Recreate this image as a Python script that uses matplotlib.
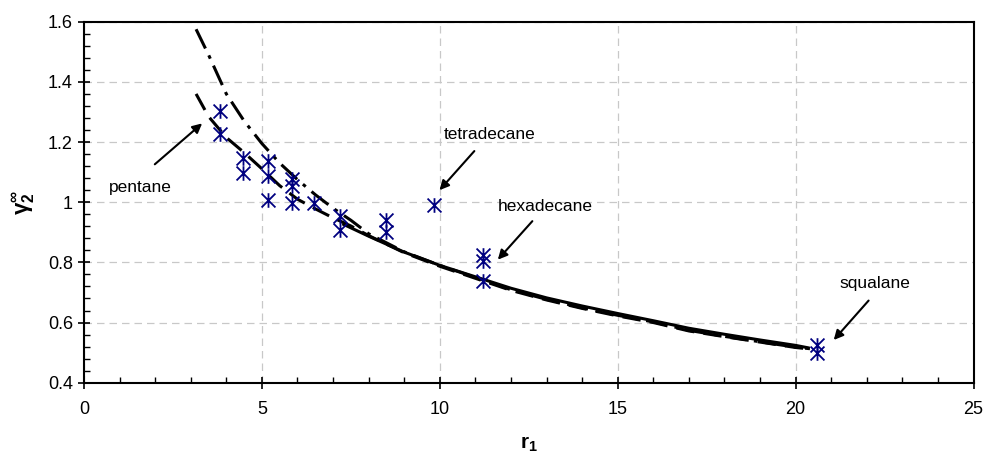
import matplotlib
matplotlib.use("Agg")
import matplotlib.pyplot as plt
from matplotlib.path import Path
from matplotlib.ticker import MultipleLocator

plt.rcParams['font.family'] = ['Liberation Sans', 'DejaVu Sans']
plt.rcParams['mathtext.fontset'] = 'custom'
plt.rcParams['mathtext.rm'] = 'Liberation Sans'
plt.rcParams['mathtext.it'] = 'Liberation Sans'
plt.rcParams['mathtext.bf'] = 'Liberation Sans:bold'

# experimental infinite-dilution activity coefficients
r1_exp = [3.81, 3.81, 4.46, 4.46, 5.16, 5.16, 5.16, 5.84, 5.84, 5.84, 6.47,
          7.19, 7.19, 8.50, 8.50, 9.85, 11.2, 11.2, 11.2, 20.59, 20.59]
gamma_exp = [1.303, 1.226, 1.148, 1.096, 1.137, 1.087, 1.006, 1.076, 1.053,
             0.998, 0.998, 0.953, 0.906, 0.942, 0.900, 0.990, 0.825, 0.803,
             0.737, 0.526, 0.500]

# model curves
r1_a = [3.15, 3.5, 4.0, 4.5, 5.0, 5.5, 6.0, 6.5, 7.0, 7.5, 8.0, 9, 10, 11,
        12, 13, 14, 15, 16, 17, 18, 19, 20, 20.4]
gamma_a = [1.575, 1.49, 1.36, 1.27, 1.195, 1.13, 1.075, 1.025, 0.98, 0.94,
           0.895, 0.835, 0.790, 0.750, 0.709, 0.677, 0.649, 0.624, 0.602,
           0.574, 0.554, 0.536, 0.518, 0.513]

r1_b = [3.15, 3.5, 4.0, 4.5, 5.0, 5.5, 6.0, 6.5, 7.0, 7.5, 8.0, 9, 10, 11,
        12, 13, 14, 15, 16, 17, 18, 19, 20, 20.4]
gamma_b = [1.36, 1.285, 1.215, 1.165, 1.111, 1.055, 1.010, 0.978, 0.948,
           0.921, 0.889, 0.832, 0.787, 0.747, 0.707, 0.675, 0.647, 0.622,
           0.600, 0.572, 0.553, 0.535, 0.517, 0.512]

r1_c = [7.3, 8.0, 9, 10, 11, 12, 13, 14, 15, 16, 17, 18, 19, 20, 20.35]
gamma_c = [0.926, 0.887, 0.834, 0.790, 0.752, 0.714, 0.682, 0.655, 0.630,
           0.606, 0.581, 0.561, 0.542, 0.524, 0.516]

# labelled solutes: (text, text_x, text_y, arrow_tail, arrow_tip)
labels = [
    ("pentane", 1.57, 1.05, (1.99, 1.126), (3.32, 1.262)),
    ("tetradecane", 11.4, 1.226, (10.97, 1.17), (9.99, 1.04)),
    ("hexadecane", 12.95, 0.985, (12.6, 0.937), (11.63, 0.809)),
    ("squalane", 22.23, 0.731, (22.05, 0.673), (21.07, 0.542)),
]

# asterisk: X with a vertical bar
star = Path([(-1, -1), (1, 1), (-1, 1), (1, -1), (0, -1.05), (0, 1.05)],
            [Path.MOVETO, Path.LINETO, Path.MOVETO, Path.LINETO,
             Path.MOVETO, Path.LINETO])

fig = plt.figure(figsize=(9.87, 4.58), dpi=100)
ax = fig.add_axes([0.0851, 0.1644, 0.9013, 0.7882])

ax.plot(r1_a, gamma_a, color='black', lw=2.2,
        linestyle=(0, (7, 2.5, 1.2, 2.5)), zorder=3)
ax.plot(r1_b, gamma_b, color='black', lw=2.2,
        linestyle=(0, (6, 3)), zorder=3)
ax.plot(r1_c, gamma_c, color='black', lw=2.2, zorder=3)
ax.plot(r1_exp, gamma_exp, linestyle='none', marker=star, markersize=10.5,
        markeredgewidth=1.3, markeredgecolor='#000080',
        markerfacecolor='none', zorder=4)

for text, tx, ty, tail, tip in labels:
    ax.text(tx, ty, text, fontsize=12.5, ha='center', va='center')
    ax.annotate('', xy=tip, xytext=tail,
                arrowprops=dict(arrowstyle='-|>', color='black', lw=1.5,
                                mutation_scale=14, shrinkA=0, shrinkB=0))

ax.set_xlim(0, 25)
ax.set_ylim(0.4, 1.6)
ax.xaxis.set_major_locator(MultipleLocator(5))
ax.xaxis.set_minor_locator(MultipleLocator(1))
ax.yaxis.set_major_locator(MultipleLocator(0.2))
ax.yaxis.set_minor_locator(MultipleLocator(0.04))
ax.set_yticks([0.4, 0.6, 0.8, 1.0, 1.2, 1.4, 1.6])
ax.set_yticklabels(['0.4', '0.6', '0.8', '1', '1.2', '1.4', '1.6'])

ax.tick_params(which='major', direction='inout', length=8, width=1.2,
               labelsize=13)
ax.tick_params(axis='x', which='major', pad=9)
ax.tick_params(axis='y', which='major', pad=4)
ax.tick_params(which='minor', direction='in', length=4, width=1.0)
ax.grid(True, which='major', color='#c8c8c8', linestyle=(0, (6, 4)), lw=0.9)
for side in ax.spines.values():
    side.set_linewidth(1.5)

ax.set_xlabel(r'$\mathbf{r_1}$', fontsize=15, labelpad=12)
ax.set_ylabel(r'$\mathbf{\gamma_2^{\infty}}$', fontsize=16, labelpad=8)

fig.savefig('out.png', dpi=100)
